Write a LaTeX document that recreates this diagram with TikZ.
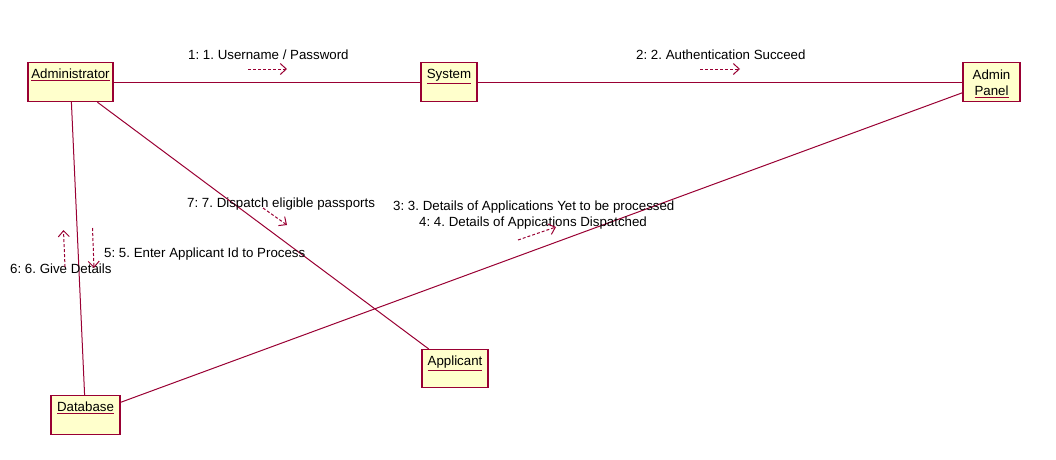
\documentclass[tikz,border=0pt]{standalone}
\usepackage{fontspec}
\setmainfont{Liberation Sans}
\usetikzlibrary{arrows.meta}
\definecolor{umlred}{RGB}{153,0,51}
\definecolor{umlfill}{RGB}{255,255,204}
\newcommand{\objname}[1]{{\color{umlred}\underline{\color{black}#1}}}
\frenchspacing
\tikzset{
  obj/.style={draw=umlred,fill=umlfill,line width=1.2pt,anchor=north,inner xsep=0pt,inner ysep=3pt,
    minimum height=39pt,text height=13pt,text depth=20pt,align=center},
  link/.style={draw=umlred,line width=1pt},
  msg/.style={draw=umlred,line width=1pt,dash pattern=on 3pt off 2pt,-{Straight Barb[length=6pt,width=11pt]}},
  lbl/.style={anchor=base west,inner sep=0pt}
}
\begin{document}
\begin{tikzpicture}[x=1pt,y=-1pt,font=\fontsize{13.3}{16}\selectfont]
\useasboundingbox (0,0) rectangle (1056,459);
\node[obj,minimum width=85pt] (adm) at (70.5,62) {\objname{Administrator}};
\node[obj,minimum width=56pt] (sys) at (449,62) {\objname{System}};
\node[obj,minimum width=57pt,text height=30pt,text depth=3pt] (pnl) at (991.5,62) {Admin\\\objname{Panel}};
\node[obj,minimum width=66pt,minimum height=38pt,text depth=19pt] (app) at (455,349) {\objname{Applicant}};
\node[obj,minimum width=69pt] (dbs) at (85.5,395) {\objname{Database}};
\draw[link] (adm)--(sys); \draw[link] (sys)--(pnl);
\draw[link] (adm)--(dbs); \draw[link] (adm)--(app);
\draw[link] (dbs)--(pnl);
\node[lbl] (l1) at (188,59) {1: 1. Username / Password};
\node[lbl] (l2) at (636,59) {2: 2. Authentication Succeed};
\node[lbl] (l7) at (187,207) {7: 7. Dispatch eligible passports};
\node[lbl] (l3) at (393,210) {3: 3. Details of Applications Yet to be processed};
\node[lbl] (l4) at (419,226) {4: 4. Details of Appications Dispatched};
\node[lbl] (l5) at (104,257) {5: 5. Enter Applicant Id to Process};
\node[lbl] (l6) at (10,273) {6: 6. Give Details};
\coordinate (m1a) at (248,69); \coordinate (m1b) at (287,69);
\coordinate (m2a) at (700,69); \coordinate (m2b) at (740,69);
\coordinate (m7a) at (263,208); \coordinate (m7b) at (287,225);
\coordinate (m3a) at (518,240); \coordinate (m3b) at (556,227);
\coordinate (m5a) at (92.5,228); \coordinate (m5b) at (94,268);
\coordinate (m6a) at (65,267); \coordinate (m6b) at (63.5,230);
\draw[msg] (m1a)--(m1b); \draw[msg] (m2a)--(m2b); \draw[msg] (m7a)--(m7b);
\draw[msg] (m3a)--(m3b); \draw[msg] (m5a)--(m5b); \draw[msg] (m6a)--(m6b);
\end{tikzpicture}
\end{document}
